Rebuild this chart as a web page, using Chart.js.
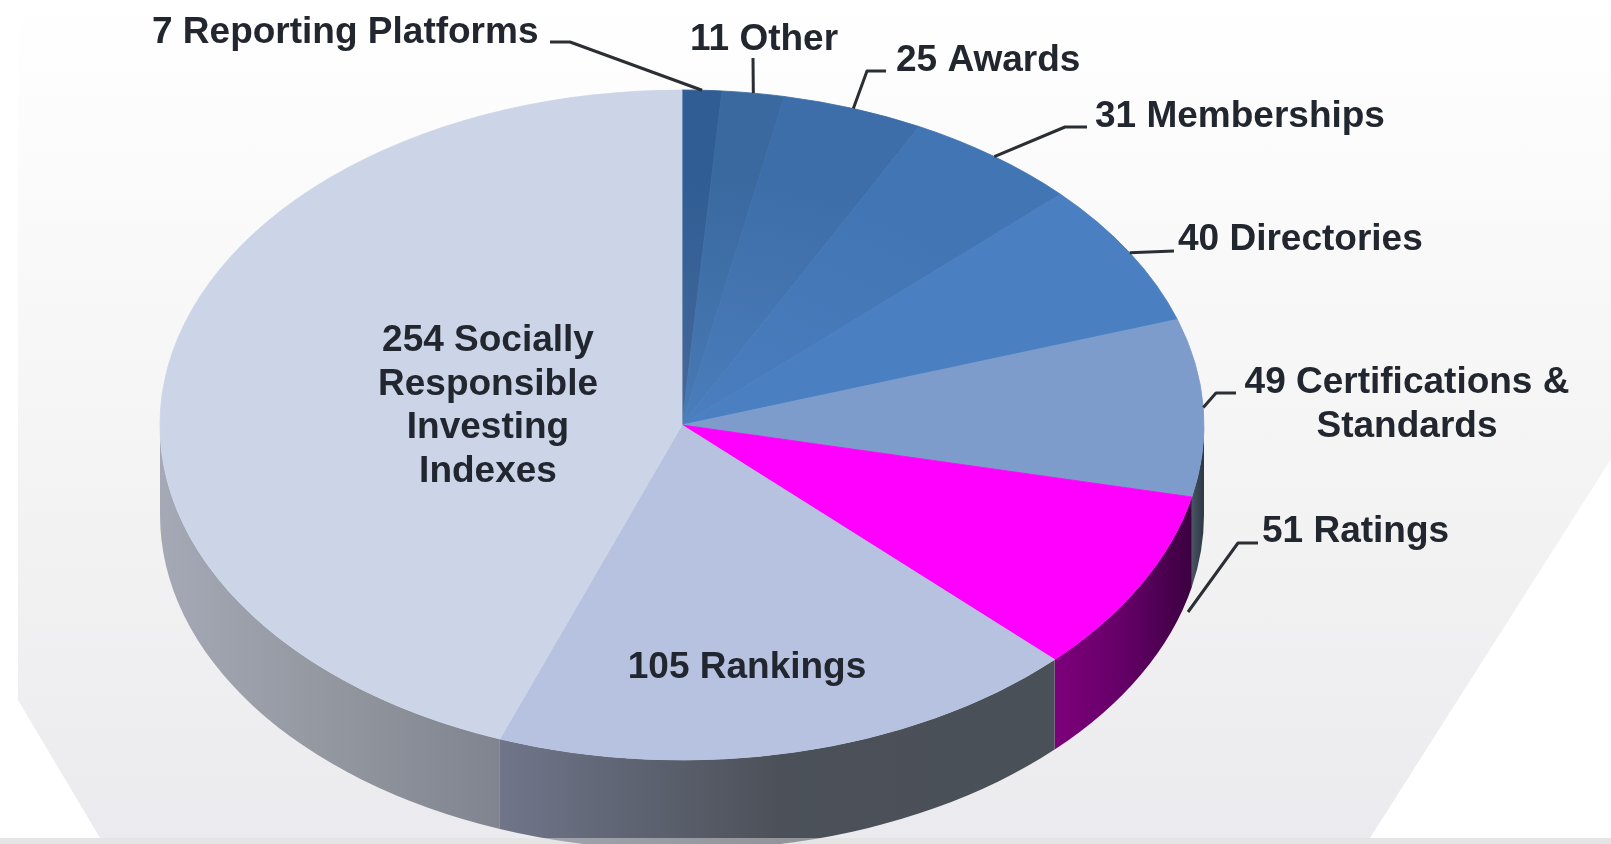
<!DOCTYPE html>
<html>
<head>
<meta charset="utf-8">
<title>Sustainability ratings by type</title>
<script src="https://cdn.jsdelivr.net/npm/chart.js@4"></script>
<style>
    html, body { margin: 0; padding: 0; background: #fff; overflow: hidden; }
    #wrap { position: relative; width: 1611px; height: 844px; overflow: hidden; }
    #backdrop {
        position: absolute; left: 0; top: 0; width: 1611px; height: 838px;
        background: linear-gradient(to bottom, #ffffff 0%, #f9f9f9 30%, #f3f3f3 60%, #ebebef 100%);
        clip-path: polygon(18px 4px, 1611px 4px, 1611px 459px, 1370px 838px, 100px 838px, 18px 700px);
    }
    #strip { position: absolute; left: 0; top: 838px; width: 1611px; height: 6px; background: rgba(205, 205, 208, 0.55); }
</style>
</head>
<body>
<div id="wrap">
    <div id="backdrop"></div>
    <canvas id="pieChart" width="1611" height="844" style="position:absolute;left:0;top:0"></canvas>
    <div id="strip"></div>
</div>
<script>
// values read clockwise from 12 o'clock
const categories = ['Reporting Platforms', 'Other', 'Awards', 'Memberships', 'Directories',
    'Certifications & Standards', 'Ratings', 'Rankings', 'Socially Responsible Investing Indexes'];
const counts = [7, 11, 25, 31, 40, 49, 51, 105, 254];

const topColors = ['#2f5d94', '#39699f', '#3e6ea9', '#4175b3', '#4a7fc1', '#7d9ccb', '#ff00ff', '#b6c2df', '#ccd5e7'];
const innerColors = ['#47699a', '#4a7ab5', '#4a7dbb', '#4a7ebf', '#4a7fc1', '#7d9ccb', '#ff00ff', '#b6c2df', '#ccd5e7'];
// wall shading, right to left
const wallColors = [null, null, null, null, null,
    ['#2d3844', '#3a4452', '#4a5666'],
    ['#3c0040', '#650068', '#7d007a'],
    ['#4a5058', '#4c5159', '#70758a'],
    ['#80848f', '#93979f', '#a5a9b6']];

const rimRadius = 522;
const flatten = 335 / 522;
const wallDepth = 90;

// label text lines, anchor of the block (x centre or left edge), and leader elbow points
const labelBlocks = [
    { lines: ['7 Reporting Platforms'], x: 152, y: 33, align: 'left', leader: [[550, 42], [570, 42]], slice: 0 },
    { lines: ['11 Other'], x: 690, y: 40, align: 'left', leader: [[753, 58]], slice: 1 },
    { lines: ['25 Awards'], x: 896, y: 61, align: 'left', leader: [[886, 71], [867, 71]], slice: 2 },
    { lines: ['31 Memberships'], x: 1095, y: 117, align: 'left', leader: [[1087, 127], [1065, 127]], slice: 3 },
    { lines: ['40 Directories'], x: 1178, y: 240, align: 'left', leader: [[1174, 251]], slice: 4 },
    { lines: ['49 Certifications &', 'Standards'], x: 1407, y: 383, align: 'center', leader: [[1236, 393], [1216, 393]], slice: 5 },
    { lines: ['51 Ratings'], x: 1262, y: 532, align: 'left', leader: [[1258, 543], [1238, 543], [1188, 612]] },
    { lines: ['105 Rankings'], x: 747, y: 668, align: 'center' },
    { lines: ['254 Socially', 'Responsible', 'Investing', 'Indexes'], x: 488, y: 341, align: 'center' }
];

const pseudo3d = {
    id: 'pseudo3d',
    beforeDatasetsDraw(chart) {
        const ctx = chart.ctx;
        const arcs = chart.getDatasetMeta(0).data;
        const cx = arcs[0].x, cy = arcs[0].y;
        const ry = rimRadius * flatten;

        // side wall, only the part facing the viewer
        arcs.forEach((arc, i) => {
            const a0 = Math.max(arc.startAngle, 0);
            const a1 = Math.min(arc.endAngle, Math.PI);
            if (a1 <= a0 || !wallColors[i]) return;
            const x0 = cx + rimRadius * Math.cos(a0);
            const x1 = cx + rimRadius * Math.cos(a1);
            const grad = ctx.createLinearGradient(x0, 0, x1, 0);
            wallColors[i].forEach((c, k) => grad.addColorStop(k / (wallColors[i].length - 1), c));
            ctx.beginPath();
            ctx.ellipse(cx, cy, rimRadius, ry, 0, a0, a1);
            ctx.ellipse(cx, cy + wallDepth, rimRadius, ry, 0, a1, a0, true);
            ctx.closePath();
            ctx.fillStyle = grad;
            ctx.fill();
        });

        // squash the pie itself into an ellipse
        ctx.save();
        ctx.translate(cx, cy);
        ctx.scale(1, flatten);
        ctx.translate(-cx, -cy);
    },
    afterDatasetsDraw(chart) {
        const ctx = chart.ctx;
        ctx.restore();

        const arcs = chart.getDatasetMeta(0).data;
        const cx = arcs[0].x, cy = arcs[0].y;
        const ry = rimRadius * flatten;

        ctx.lineWidth = 3;
        ctx.strokeStyle = '#2b2e33';
        ctx.lineJoin = 'round';
        labelBlocks.forEach(block => {
            if (!block.leader) return;
            ctx.beginPath();
            block.leader.forEach((p, k) => k ? ctx.lineTo(p[0], p[1]) : ctx.moveTo(p[0], p[1]));
            if (block.slice !== undefined) {
                const arc = arcs[block.slice];
                const mid = (arc.startAngle + arc.endAngle) / 2;
                ctx.lineTo(cx + rimRadius * Math.cos(mid), cy + ry * Math.sin(mid));
            }
            ctx.stroke();
        });

        ctx.fillStyle = '#22262f';
        ctx.font = 'bold 37px "Liberation Sans", Arial, sans-serif';
        ctx.textBaseline = 'middle';
        labelBlocks.forEach(block => {
            ctx.textAlign = block.align;
            block.lines.forEach((line, k) => ctx.fillText(line, block.x, block.y + k * 43.5));
        });
    }
};

function sliceFill(context) {
    const i = context.dataIndex;
    const area = context.chart.chartArea;
    if (!area || i === undefined || topColors[i] === innerColors[i]) return topColors[i];
    const cx = (area.left + area.right) / 2;
    const cy = (area.top + area.bottom) / 2;
    const g = context.chart.ctx.createRadialGradient(cx, cy, 0, cx, cy, rimRadius);
    g.addColorStop(0, innerColors[i]);
    g.addColorStop(0.75, topColors[i]);
    g.addColorStop(1, topColors[i]);
    return g;
}

document.addEventListener('DOMContentLoaded', () => {
    const chartCanvas = document.getElementById('pieChart');
    new Chart(chartCanvas.getContext('2d'), {
        type: 'pie',
        data: {
            labels: categories,
            datasets: [{
                data: counts,
                clip: false,
                borderWidth: 1,
                borderColor: sliceFill,
                backgroundColor: sliceFill
            }]
        },
        options: {
            responsive: false,
            devicePixelRatio: 1,
            animation: false,
            radius: rimRadius,
            layout: { padding: { top: 6, right: 247 } },
            plugins: { legend: { display: false }, tooltip: { enabled: false } }
        },
        plugins: [pseudo3d]
    });
});
</script>
</body>
</html>
